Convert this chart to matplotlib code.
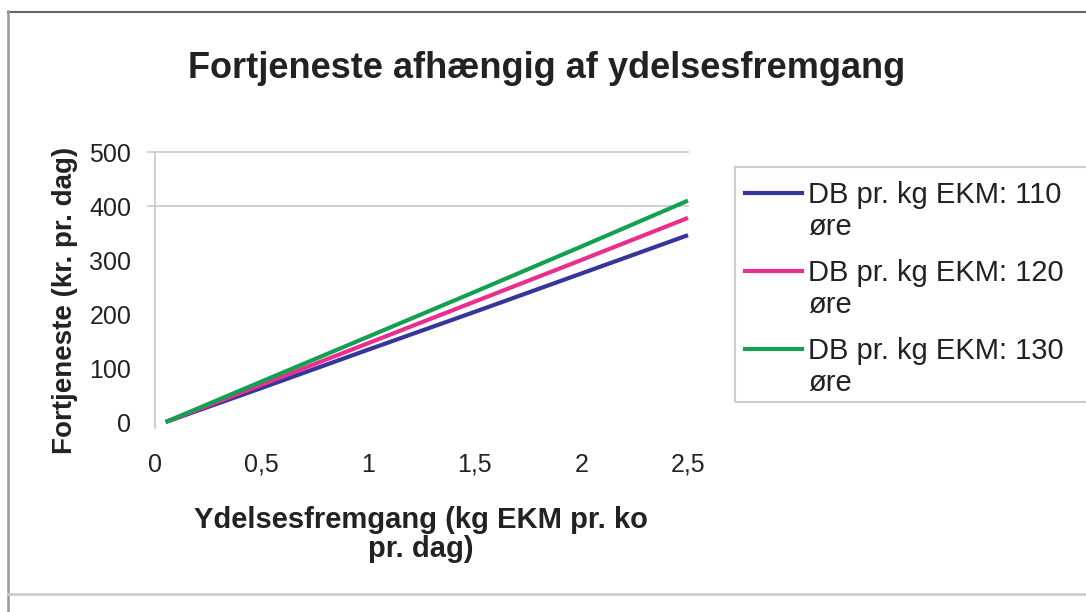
import matplotlib
matplotlib.use("Agg")
import matplotlib.pyplot as plt
from matplotlib.lines import Line2D
from matplotlib.patches import Rectangle
from matplotlib.ticker import FuncFormatter

plt.rcParams['font.family'] = ['Liberation Sans', 'DejaVu Sans']

# Yield gain (kg EKM per cow per day) and resulting profit (kr. per day)
x_gain = [0.05, 0.5, 1.0, 1.5, 2.0, 2.5]
db_110 = [0, 63, 134, 204, 275, 346]
db_120 = [0, 69, 146, 223, 300, 378]
db_130 = [0, 75, 158, 241, 325, 410]

series_labels = ["DB pr. kg EKM: 110", "DB pr. kg EKM: 120", "DB pr. kg EKM: 130"]
series_colors = ["#35359a", "#e92f8d", "#14a052"]

x_ticks = [0, 0.5, 1, 1.5, 2, 2.5]
y_ticks = [0, 100, 200, 300, 400, 500]

W, H = 1086, 612
fig = plt.figure(figsize=(W / 100, H / 100), dpi=100)
fig.patch.set_facecolor("white")

def fx(px):
    return px / W

def fy(py):
    return 1 - py / H

# plot area
left, right, top, bottom = 155, 688, 152, 422
ax = fig.add_axes([fx(left), fy(bottom), fx(right - left), (bottom - top) / H])
ax.set_xlim(0, 2.5)
ax.set_ylim(0, 500)

for vals, col in zip([db_110, db_120, db_130], series_colors):
    ax.plot(x_gain, vals, color=col, lw=3.0, solid_capstyle="butt", clip_on=False, zorder=3)

# horizontal gridlines (upper part), extending slightly left as tick marks
for gy in [400, 500]:
    ax.axhline(gy, xmin=-0.014, xmax=1.0, color="#c8c8c8", lw=1.2, clip_on=False, zorder=1)

for side in ["top", "right", "bottom"]:
    ax.spines[side].set_visible(False)
ax.spines["left"].set_color("#c8c8c8")
ax.spines["left"].set_linewidth(1.2)
ax.spines["left"].set_bounds(-12, 500)

comma = FuncFormatter(lambda v, p: ("%g" % v).replace(".", ","))
ax.set_xticks(x_ticks)
ax.xaxis.set_major_formatter(comma)
ax.set_yticks(y_ticks)
ax.tick_params(axis="both", which="major", length=0, labelsize=18, labelcolor="#222222")
ax.tick_params(axis="x", which="major", pad=22)
ax.tick_params(axis="y", which="major", pad=17)
ax.set_xticks([1, 2], minor=True)
ax.tick_params(axis="x", which="minor", length=6, width=1.2, color="#c8c8c8", direction="out")
ax.tick_params(axis="y", which="minor", length=0)

ax.set_ylabel("Fortjeneste (kr. pr. dag)", fontsize=20, fontweight="bold", color="#222222")
ax.yaxis.set_label_coords((78 - left) / (right - left), (bottom - 300) / (bottom - top))
ax.set_xlabel("Ydelsesfremgang (kg EKM pr. ko\npr. dag)", fontsize=21, fontweight="bold",
              color="#222222", linespacing=1.05)
ax.xaxis.set_label_coords((421 - left) / (right - left), (bottom - 506) / (bottom - top))

fig.text(fx(547), fy(68), "Fortjeneste afhængig af ydelsesfremgang", fontsize=26,
         fontweight="bold", color="#222222", ha="center", va="center")

# legend box
fig.patches.append(Rectangle((fx(735), fy(402)), fx(1100 - 735), (402 - 167) / H,
                             transform=fig.transFigure, fill=False, edgecolor="#cccccc",
                             lw=1.5, figure=fig))
for i, (lab, col) in enumerate(zip(series_labels, series_colors)):
    yl = 193 + i * 78
    fig.lines.append(Line2D([fx(745), fx(802)], [fy(yl), fy(yl)], transform=fig.transFigure,
                            color=col, lw=3.0, figure=fig))
    fig.text(fx(808), fy(yl + 10), lab, fontsize=21, color="#222222", ha="left", va="baseline")
    fig.text(fx(808), fy(yl + 42), "øre", fontsize=21, color="#222222", ha="left", va="baseline")

# outer chart border
fig.lines.append(Line2D([fx(8), fx(W)], [fy(11.5), fy(11.5)], transform=fig.transFigure,
                        color="#666666", lw=1.5, figure=fig))
fig.lines.append(Line2D([fx(8), fx(8)], [fy(11), fy(H)], transform=fig.transFigure,
                        color="#999999", lw=1.8, figure=fig))
fig.lines.append(Line2D([fx(8), fx(W)], [fy(594), fy(594)], transform=fig.transFigure,
                        color="#cccccc", lw=2.0, figure=fig))

fig.savefig("out.png", dpi=100, facecolor="white")
